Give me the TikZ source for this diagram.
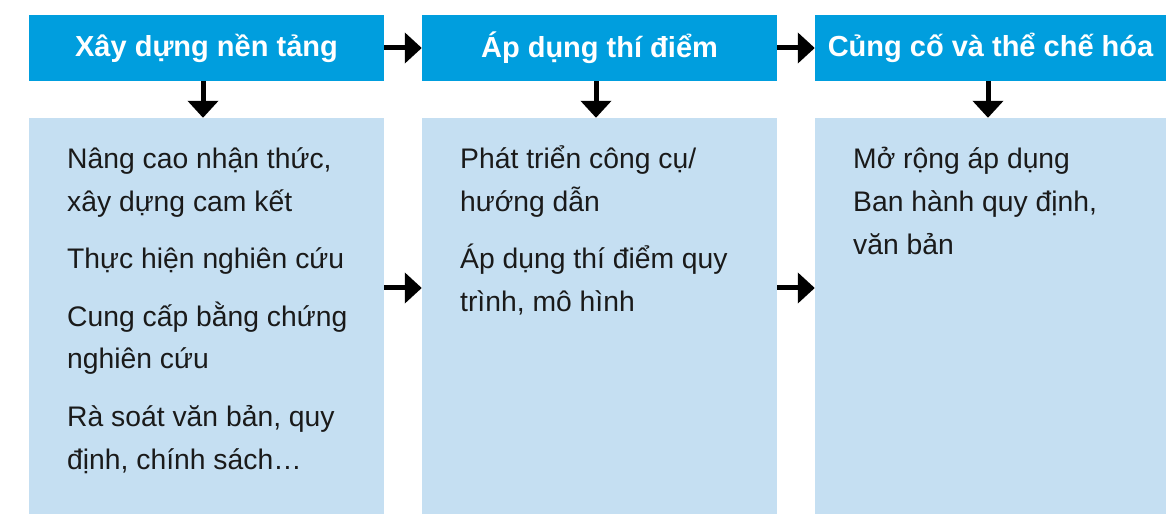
\documentclass[tikz,border=0pt]{standalone}
\usepackage{fontspec}
\setmainfont{Liberation Sans}
\usetikzlibrary{arrows.meta}
\definecolor{hdrblue}{RGB}{0,158,222}
\definecolor{bodyblue}{RGB}{197,223,242}
\definecolor{txt}{RGB}{26,26,26}
\begin{document}
\begin{tikzpicture}[x=1bp,y=-1bp,
  hdr/.style={fill=hdrblue, text=white, minimum width=355bp, minimum height=66bp, inner sep=0pt,
    font=\fontsize{29bp}{34bp}\selectfont\bfseries},
  panel/.style={fill=bodyblue, minimum width=355bp, minimum height=396bp, inner sep=0pt},
  item/.style={anchor=base west, inner sep=0pt, text=txt, font=\fontsize{28.3bp}{32bp}\selectfont},
  flow/.style={line width=5bp, -{Triangle[length=17bp,width=30bp]}}]
\useasboundingbox (0,0) rectangle (1166,514);
% headers
\node[hdr] (h1) at (206.5,48) {Xây dựng nền tảng};
\node[hdr] (h2) at (599.5,48) {Áp dụng thí điểm};
\node[hdr, minimum width=351bp] (h3) at (990.5,48) {Củng cố và thể chế hóa};
% panels
\node[panel] (b1) at (206.5,316) {};
\node[panel] (b2) at (599.5,316) {};
\node[panel, minimum width=351bp] (b3) at (990.5,316) {};
% panel 1 text
\node[item] (t11) at (67,169) {Nâng cao nhận thức,};
\node[item] (t12) at (67,211.5) {xây dựng cam kết};
\node[item] (t13) at (67,269) {Thực hiện nghiên cứu};
\node[item] (t14) at (67,326.5) {Cung cấp bằng chứng};
\node[item] (t15) at (67,369) {nghiên cứu};
\node[item] (t16) at (67,426.5) {Rà soát văn bản, quy};
\node[item] (t17) at (67,469) {định, chính sách…};
% panel 2 text
\node[item] (t21) at (460,169) {Phát triển công cụ/};
\node[item] (t22) at (460,211.5) {hướng dẫn};
\node[item] (t23) at (460,269) {Áp dụng thí điểm quy};
\node[item] (t24) at (460,311.5) {trình, mô hình};
% panel 3 text
\node[item] (t31) at (853,169) {Mở rộng áp dụng};
\node[item] (t32) at (853,212) {Ban hành quy định,};
\node[item] (t33) at (853,255) {văn bản};
% arrows
\draw[flow] (h1) -- (h2);
\draw[flow] (h2) -- (h3);
\draw[flow] ([xshift=-3.5bp]h1.south) -- ([xshift=-3.5bp]b1.north);
\draw[flow] ([xshift=-3.5bp]h2.south) -- ([xshift=-3.5bp]b2.north);
\draw[flow] ([xshift=-2.5bp]h3.south) -- ([xshift=-2.5bp]b3.north);
\draw[flow] ([yshift=28bp]b1.east) -- ([yshift=28bp]b2.west);
\draw[flow] ([yshift=28bp]b2.east) -- ([yshift=28bp]b3.west);
\end{tikzpicture}
\end{document}
